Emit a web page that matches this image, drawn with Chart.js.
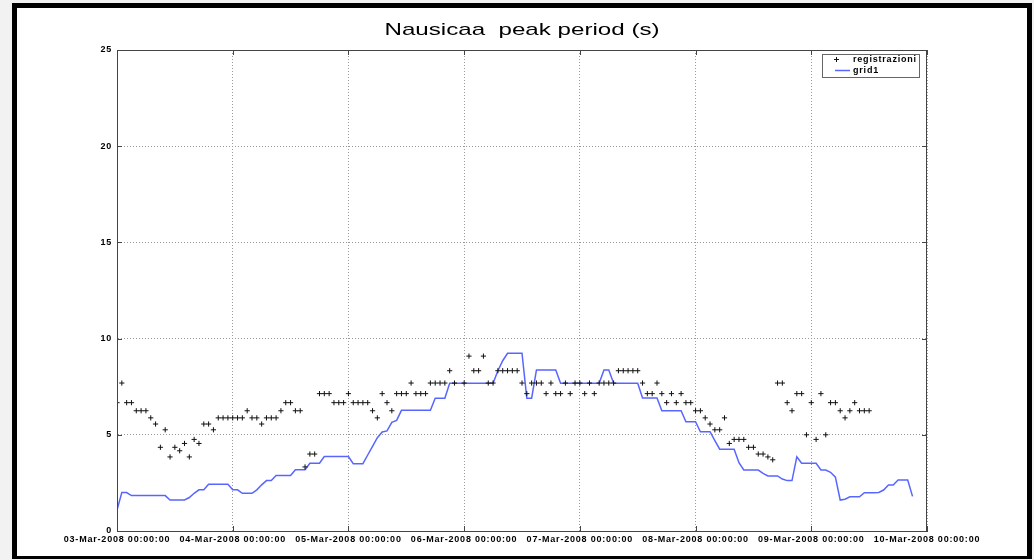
<!DOCTYPE html>
<html><head><meta charset="utf-8">
<script src="https://cdn.jsdelivr.net/npm/chart.js@4.4.1/dist/chart.umd.min.js"></script>
<style>html,body{margin:0;padding:0;background:#f2f2f2;overflow:hidden}#wrap{position:absolute;left:0;top:0;width:1034px;height:560px}</style>
</head><body><div id="wrap"><canvas id="c" width="1034" height="560"></canvas></div>
<script>
const chartTitle = 'Nausicaa  peak period (s)';
const seriesNames = ['registrazioni', 'grid1'];
const tickLabels = ['03-Mar-2008 00:00:00','04-Mar-2008 00:00:00','05-Mar-2008 00:00:00','06-Mar-2008 00:00:00','07-Mar-2008 00:00:00','08-Mar-2008 00:00:00','09-Mar-2008 00:00:00','10-Mar-2008 00:00:00'];
const hoursPerTick = 24;
const yTicks = [0, 5, 10, 15, 20, 25];
// hourly observations from 03-Mar-2008 00:00
const obsValues = [
 6.67,7.69,6.67,6.67,6.25,6.25,6.25,5.88,5.56,4.35,
 5.26,3.85,4.35,4.17,4.55,3.85,4.76,4.55,5.56,5.56,
 5.26,5.88,5.88,5.88,5.88,5.88,5.88,6.25,5.88,5.88,
 5.56,5.88,5.88,5.88,6.25,6.67,6.67,6.25,6.25,3.33,
 4.00,4.00,7.14,7.14,7.14,6.67,6.67,6.67,7.14,6.67,
 6.67,6.67,6.67,6.25,5.88,7.14,6.67,6.25,7.14,7.14,
 7.14,7.69,7.14,7.14,7.14,7.69,7.69,7.69,7.69,8.33,
 7.69,null,7.69,9.09,8.33,8.33,9.09,7.69,7.69,8.33,
 8.33,8.33,8.33,8.33,7.69,7.14,7.69,7.69,7.69,7.14,
 7.69,7.14,7.14,7.69,7.14,7.69,7.69,7.14,7.69,7.14,
 7.69,7.69,7.69,7.69,8.33,8.33,8.33,8.33,8.33,7.69,
 7.14,7.14,7.69,7.14,6.67,7.14,6.67,7.14,6.67,6.67,
 6.25,6.25,5.88,5.56,5.26,5.26,5.88,4.55,4.76,4.76,
 4.76,4.35,4.35,4.00,4.00,3.85,3.70,7.69,7.69,6.67,
 6.25,7.14,7.14,5.00,6.67,4.76,7.14,5.00,6.67,6.67,
 6.25,5.88,6.25,6.67,6.25,6.25,6.25
];
// hourly model values (grid1)
const gridValues = [
 1.09,2.00,2.00,1.84,1.84,1.84,1.84,1.84,1.84,1.84,
 1.84,1.61,1.61,1.61,1.61,1.74,1.96,2.14,2.14,2.43,
 2.43,2.43,2.43,2.43,2.14,2.14,1.96,1.96,1.96,2.14,
 2.40,2.62,2.62,2.88,2.88,2.88,2.88,3.18,3.18,3.18,
 3.52,3.52,3.52,3.87,3.87,3.87,3.87,3.87,3.87,3.50,
 3.50,3.50,3.95,4.40,4.85,5.15,5.20,5.65,5.75,6.27,
 6.27,6.27,6.27,6.27,6.27,6.27,6.90,6.90,6.90,7.68,
 7.68,7.68,7.68,7.68,7.68,7.68,7.68,7.68,7.68,8.33,
 8.85,9.24,9.24,9.24,9.24,6.90,6.90,8.37,8.37,8.37,
 8.37,8.37,7.68,7.68,7.68,7.68,7.68,7.68,7.68,7.68,
 7.68,8.37,8.37,7.68,7.68,7.68,7.68,7.68,7.68,6.91,
 6.91,6.91,6.91,6.25,6.25,6.25,6.25,6.25,5.68,5.68,
 5.68,5.16,5.16,5.16,4.70,4.25,4.25,4.25,4.25,3.55,
 3.17,3.17,3.17,3.17,3.00,2.86,2.86,2.86,2.70,2.62,
 2.62,3.86,3.52,3.52,3.52,3.52,3.17,3.17,3.05,2.80,
 1.61,1.65,1.78,1.78,1.78,1.99,1.99,1.99,2.00,2.13,
 2.39,2.39,2.65,2.65,2.65,1.80
];

const obsPts = obsValues.map((v, i) => ({x: i, y: v}));
const gridPts = gridValues.map((v, i) => ({x: i, y: v}));
const FONT = '"Liberation Sans", Arial, Helvetica, sans-serif';
const LINE_COLOR = '#5866ff';

const decor = {
  id: 'decor',
  beforeDraw(chart) {
    const ctx = chart.ctx;
    ctx.save();
    ctx.fillStyle = '#f2f2f2'; ctx.fillRect(0, 0, 1034, 560);
    ctx.fillStyle = '#000'; ctx.fillRect(12, 3, 1020, 556);
    ctx.fillStyle = '#fff'; ctx.fillRect(17, 8, 1010, 548);
    ctx.restore();
    ctx.letterSpacing = '0.8px';
  },
  afterDraw(chart) {
    const ctx = chart.ctx;
    const a = chart.chartArea;
    const xs = chart.scales.x, ys = chart.scales.y;
    ctx.save();
    ctx.letterSpacing = '0px';
    // axes box
    ctx.strokeStyle = '#444'; ctx.lineWidth = 1;
    ctx.strokeRect(Math.round(a.left) + 0.5, Math.round(a.top) + 0.5, Math.round(a.right - a.left) - 1, Math.round(a.bottom - a.top));
    // inward ticks
    ctx.beginPath();
    xs.ticks.forEach(t => {
      const px = Math.round(xs.getPixelForValue(t.value)) + 0.5;
      ctx.moveTo(px, a.bottom); ctx.lineTo(px, a.bottom - 5);
      ctx.moveTo(px, a.top); ctx.lineTo(px, a.top + 5);
    });
    ys.ticks.forEach(t => {
      const py = Math.round(ys.getPixelForValue(t.value)) + 0.5;
      ctx.moveTo(a.left, py); ctx.lineTo(a.left + 5, py);
      ctx.moveTo(a.right, py); ctx.lineTo(a.right - 5, py);
    });
    ctx.stroke();
    // title
    ctx.fillStyle = '#000';
    ctx.font = '17px ' + FONT;
    ctx.textAlign = 'center'; ctx.textBaseline = 'alphabetic';
    ctx.translate((a.left + a.right) / 2, 35);
    ctx.scale(1.42, 1);
    ctx.fillText(chartTitle, 0, 0);
    ctx.restore();
    // legend
    ctx.save();
    const lx = 822, ly = 54, lw = 97, lh = 23;
    ctx.fillStyle = '#fff'; ctx.fillRect(lx, ly, lw, lh);
    ctx.strokeStyle = '#666'; ctx.lineWidth = 1;
    ctx.strokeRect(lx + 0.5, ly + 0.5, lw, lh);
    const ds = chart.data.datasets;
    ctx.strokeStyle = '#111';
    ctx.beginPath();
    ctx.moveTo(836.5, 57); ctx.lineTo(836.5, 62);
    ctx.moveTo(834, 59.5); ctx.lineTo(839, 59.5);
    ctx.stroke();
    ctx.strokeStyle = LINE_COLOR; ctx.lineWidth = 1.5;
    ctx.beginPath(); ctx.moveTo(835, 70.5); ctx.lineTo(850, 70.5); ctx.stroke();
    ctx.letterSpacing = '0.8px';
    ctx.fillStyle = '#000';
    ctx.font = 'bold 9px ' + FONT;
    ctx.textAlign = 'left'; ctx.textBaseline = 'middle';
    ctx.fillText(ds[0].label, 853, 60);
    ctx.fillText(ds[1].label, 853, 70.5);
    ctx.restore();
  }
};

new Chart(document.getElementById('c'), {
  type: 'scatter',
  data: {
    datasets: [
      { label: seriesNames[0], data: obsPts, showLine: false, pointStyle: 'cross',
        pointRadius: 2.6, pointHoverRadius: 2.6, pointBorderColor: '#111', pointBackgroundColor: '#111', pointBorderWidth: 1 },
      { label: seriesNames[1], data: gridPts, showLine: true, borderColor: LINE_COLOR, borderWidth: 1.5,
        pointRadius: 0, pointHoverRadius: 0, fill: false, tension: 0 }
    ]
  },
  options: {
    responsive: false, animation: false, devicePixelRatio: 1,
    events: [],
    layout: { padding: { left: 20, right: 107, top: 50, bottom: 0 } },
    plugins: { legend: { display: false }, title: { display: false }, tooltip: { enabled: false } },
    scales: {
      x: {
        type: 'linear', min: 0, max: hoursPerTick * (tickLabels.length - 1),
        afterBuildTicks: s => { s.ticks = tickLabels.map((_, i) => ({ value: i * hoursPerTick })); },
        afterFit: s => { s.height = 29; },
        ticks: { autoSkip: false, maxRotation: 0, minRotation: 0, padding: 3, color: '#000',
          font: { family: FONT, size: 9, weight: 'bold' },
          callback: v => tickLabels[Math.round(v / hoursPerTick)] },
        grid: { color: '#9a9a9a', drawTicks: false, lineWidth: 1 },
        border: { display: true, color: '#444', dash: [1, 2] }
      },
      y: {
        min: 0, max: 25,
        afterBuildTicks: s => { s.ticks = yTicks.map(v => ({ value: v })); },
        afterFit: s => { s.width = 97; },
        ticks: { padding: 5, color: '#000', font: { family: FONT, size: 9, weight: 'bold' } },
        grid: { color: '#9a9a9a', drawTicks: false, lineWidth: 1 },
        border: { display: true, color: '#444', dash: [1, 2] }
      }
    }
  },
  plugins: [decor]
});
</script>
</body></html>
